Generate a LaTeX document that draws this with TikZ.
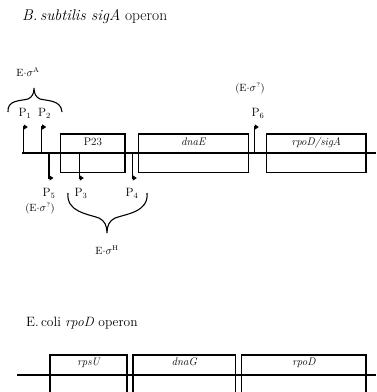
\documentclass[tikz,border=0pt]{standalone}
\usetikzlibrary{arrows.meta}
\begin{document}
\begin{tikzpicture}[x=1pt,y=-1pt,
  dna/.style={line width=1.1pt},
  genebox/.style={draw, line width=1.2pt, inner sep=0pt, minimum height=38.7pt},
  prom/.style={line width=1.1pt, -{Triangle[length=4pt,width=5pt]}},
  plabel/.style={font=\fontsize{12}{14}\selectfont, inner sep=0pt},
  slabel/.style={font=\fontsize{10.5}{12}\selectfont, inner sep=0pt},
  glabel/.style={font=\fontsize{11}{13}\selectfont\itshape, inner sep=0pt},
  title/.style={font=\fontsize{15.5}{17}\selectfont, inner sep=0pt, anchor=west},
  bracep/.style={line width=1.1pt}]
\useasboundingbox (0,0) rectangle (376,392);
\clip (0,0) rectangle (376,392);
% ---------- B. subtilis ----------
\node[title] (t1) at (22,17) {\textit{B.\,subtilis sigA} operon};
\coordinate (l1a) at (22,153);
\coordinate (l1b) at (376,153);
\draw[dna] (l1a) -- (l1b);
\node[genebox, minimum width=64.3pt] (p23) at (92.85,153.35) {};
\node[font=\fontsize{11}{13}\selectfont, inner sep=0pt, anchor=north] (p23t) at ([yshift=-4pt]p23.north) {P23};
\node[genebox, minimum width=110pt] (dnae) at (193.3,153.35) {};
\node[glabel, anchor=north] (dnaet) at ([yshift=-4pt]dnae.north) {dnaE};
\node[genebox, minimum width=99.3pt] (rpod1) at (316.35,153.35) {};
\node[glabel, anchor=north] (rpod1t) at ([yshift=-4pt]rpod1.north) {rpoD/sigA};
% upward promoters
\coordinate (p1b) at (23.3,153); \coordinate (p1t) at (23.3,127); \coordinate (p1e) at (27.8,127);
\coordinate (p2b) at (41.7,153); \coordinate (p2t) at (41.7,127); \coordinate (p2e) at (46.2,127);
\coordinate (p6b) at (254.3,153); \coordinate (p6t) at (254.3,127); \coordinate (p6e) at (258.8,127);
\draw[prom] (p1b) -- (p1t) -- (p1e);
\draw[prom] (p2b) -- (p2t) -- (p2e);
\draw[prom] (p6b) -- (p6t) -- (p6e);
% downward promoters
\coordinate (p5b) at (49,153); \coordinate (p5t) at (49,178); \coordinate (p5e) at (53.5,178);
\coordinate (p3b) at (79.3,153); \coordinate (p3t) at (79.3,178); \coordinate (p3e) at (83.8,178);
\coordinate (p4b) at (132.3,153); \coordinate (p4t) at (132.3,178); \coordinate (p4e) at (136.8,178);
\draw[prom] (p5b) -- (p5t) -- (p5e);
\draw[prom] (p3b) -- (p3t) -- (p3e);
\draw[prom] (p4b) -- (p4t) -- (p4e);
% promoter labels
\node[plabel] (lp1) at (25,113) {P$_1$};
\node[plabel] (lp2) at (44.5,113) {P$_2$};
\node[plabel] (lp6) at (258,113) {P$_6$};
\node[plabel] (lp5) at (49,193) {P$_5$};
\node[plabel] (lp3) at (81,193) {P$_3$};
\node[plabel] (lp4) at (132,193) {P$_4$};
\node[slabel] (s5) at (40,208) {(E$\cdot\sigma^{?}$)};
\node[slabel] (s6) at (250,88) {(E$\cdot\sigma^{?}$)};
\node[slabel] (sa) at (28,72) {E$\cdot\sigma^{\mathrm{A}}$};
\node[slabel] (sh) at (107,250) {E$\cdot\sigma^{\mathrm{H}}$};
% braces
\draw[bracep] (8,112) .. controls (7,100) and (20,101) .. (28,99)
  .. controls (32,97) and (34,94) .. (34,88)
  .. controls (34,94) and (36,97) .. (40,99)
  .. controls (48,101) and (61,100) .. (62,112);
\draw[bracep] (68,193) .. controls (66,212) and (88,214) .. (99,218)
  .. controls (105,221) and (107,226) .. (107,233)
  .. controls (107,226) and (109,221) .. (115,218)
  .. controls (126,214) and (149,212) .. (147,193);
% ---------- E. coli ----------
\node[title, font=\fontsize{13.5}{15}\selectfont] (t2) at (26,323) {E.\,coli \textit{rpoD} operon};
\coordinate (l2a) at (17,375);
\coordinate (l2b) at (376,375);
\draw[dna] (l2a) -- (l2b);
\node[genebox, minimum width=77pt, minimum height=60pt] (rpsu) at (88.5,385) {};
\node[glabel, anchor=north] (rpsut) at ([yshift=-3pt]rpsu.north) {rpsU};
\node[genebox, minimum width=102.7pt, minimum height=60pt] (dnag) at (184.35,385) {};
\node[glabel, anchor=north] (dnagt) at ([yshift=-3pt]dnag.north) {dnaG};
\node[genebox, minimum width=124.3pt, minimum height=60pt] (rpod2) at (303.85,385) {};
\node[glabel, anchor=north] (rpod2t) at ([yshift=-3pt]rpod2.north) {rpoD};
\end{tikzpicture}
\end{document}
